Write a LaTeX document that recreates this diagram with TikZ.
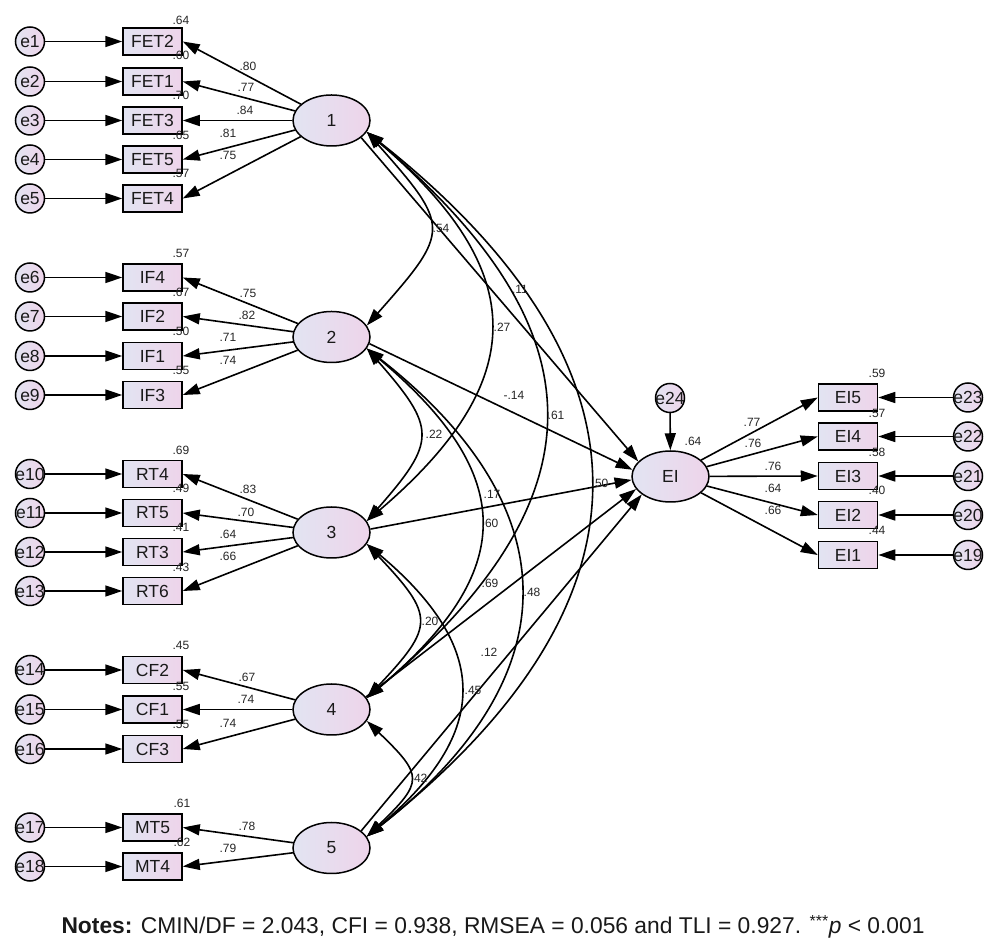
\documentclass[tikz,border=0pt]{standalone}
\usepackage{fontspec}
\setmainfont{Liberation Sans}
\usetikzlibrary{arrows.meta,shapes.geometric}
\definecolor{fl}{RGB}{226,228,242}
\definecolor{fr}{RGB}{238,212,234}
\begin{document}
\begin{tikzpicture}[x=1pt,y=1pt,
 bigf/.style={font=\fontsize{17.5}{17.5}\selectfont,inner sep=0pt,text=black!90},
 errc/.style={circle,draw,line width=1.5pt,minimum size=29pt,inner sep=0pt,left color=fl,right color=fr},
 obs/.style={rectangle,draw,line width=1.5pt,minimum width=59pt,minimum height=27pt,inner sep=0pt,left color=fl,right color=fr,font=\fontsize{17.5}{17.5}\selectfont,text=black!90},
 lat/.style={ellipse,draw,line width=1.5pt,minimum width=77pt,minimum height=51pt,inner sep=0pt,left color=fl,right color=fr,font=\fontsize{17.5}{17.5}\selectfont,text=black!90},
 lb/.style={font=\fontsize{12}{12}\selectfont,inner sep=0pt,text=black!85},
 arr/.style={line width=1.6pt,-{Triangle[length=17pt,width=11pt]}},
 cov/.style={line width=1.6pt,{Triangle[length=17pt,width=11pt]}-{Triangle[length=17pt,width=11pt]}}]
\fill[white] (0,0) rectangle (1001,950);
\useasboundingbox (0,0) rectangle (1001,950);

% latent variables
\node[lat] (L1) at (331.5,829.5) {1};
\node[lat] (L2) at (331.5,613) {2};
\node[lat] (L3) at (331.5,417.5) {3};
\node[lat] (L4) at (331.5,240.5) {4};
\node[lat] (L5) at (331.5,102) {5};
\node[lat] (EI) at (670.5,473.5) {EI};
\node[errc,label={[bigf]center:e24}] (e24) at (670,552) {};
\draw[arr] (e24) -- (EI);

% left indicators
\foreach \n/\y/\ob/\L in {1/908.5/FET2/L1, 2/868.5/FET1/L1, 3/829.5/FET3/L1, 4/790.5/FET5/L1, 5/751.5/FET4/L1,
  6/672.5/IF4/L2, 7/633.5/IF2/L2, 8/594/IF1/L2, 9/555/IF3/L2,
  10/476/RT4/L3, 11/437/RT5/L3, 12/398/RT3/L3, 13/359/RT6/L3,
  14/280/CF2/L4, 15/240.5/CF1/L4, 16/201/CF3/L4,
  17/122.5/MT5/L5, 18/83.5/MT4/L5}{
  \node[errc,label={[bigf]center:e\n}] (e\n) at (30,\y) {};
  \node[obs] (\ob) at (152.5,\y) {\ob};
  \draw[arr] (e\n) -- (\ob);
  \draw[arr] (\L) -- (\ob.east);
}

% right indicators
\foreach \n/\y/\ob in {23/552.5/EI5, 22/513.5/EI4, 21/474/EI3, 20/435/EI2, 19/395/EI1}{
  \node[errc,label={[bigf]center:e\n}] (e\n) at (968,\y) {};
  \node[obs] (\ob) at (848,\y) {\ob};
  \draw[arr] (e\n) -- (\ob);
  \draw[arr] (EI) -- (\ob.west);
}

% structural paths
\draw[arr] (L1.-30) -- (EI.155);
\draw[arr] (L2.-10) -- (EI.170);
\draw[arr] (L3.5) -- (EI.185);
\draw[arr] (L4.20) -- (EI.200);
\draw[arr] (L5.30) -- (EI.212);

% covariances
\draw[cov] (L1.-18) .. controls +(84,-95) and +(84,95) .. (L2.18);
\draw[cov] (L1.-18) .. controls +(164,-140) and +(164,140) .. (L3.18);
\draw[cov] (L1.-18) .. controls +(237,-200) and +(237,200) .. (L4.18);
\draw[cov] (L1.-18) .. controls +(297,-235) and +(297,235) .. (L5.18);
\draw[cov] (L2.-18) .. controls +(70,-80) and +(70,80) .. (L3.18);
\draw[cov] (L2.-18) .. controls +(151,-127) and +(151,127) .. (L4.18);
\draw[cov] (L2.-18) .. controls +(204,-160) and +(204,160) .. (L5.18);
\draw[cov] (L3.-18) .. controls +(68,-72) and +(68,72) .. (L4.18);
\draw[cov] (L3.-18) .. controls +(124,-104) and +(124,104) .. (L5.18);
\draw[cov] (L4.-18) .. controls +(57,-55) and +(57,55) .. (L5.18);

% coefficient labels
\foreach \x/\y/\t in {248/884/.80, 246/863/.77, 245/840/.84, 228/817/.81, 228/795/.75,
  181/930/.64, 181/895/.60, 181/855/.70, 181/815/.65, 181/777/.57,
  248/657/.75, 247/635/.82, 228/613/.71, 228/590/.74,
  181/697/.57, 181/658/.67, 181/619/.50, 181/580/.55,
  248/461/.83, 246/438/.70, 228/416/.64, 228/394/.66,
  181/500/.69, 181/462/.49, 181/423/.41, 181/383/.43,
  247/273/.67, 246/251/.74, 228/227/.74,
  181/305/.45, 181/264/.55, 181/226/.55,
  247/124/.78, 228/102/.79, 182/147/.61, 182/108/.62,
  752/528/.77, 753/507/.76, 773/484/.76, 773/462/.64, 773/440/.66,
  877/577/.59, 877/537/.57, 877/498/.58, 877/460/.40, 877/420/.44, 693/509/.64,
  441/722/.54, 502/623/.27, 556/535/.61, 600/467/.50, 434/516/.22, 490/427/.60,
  532/358/.48, 430/329/.20, 473/260/.45, 419/172/.42,
  520/661/.11, 514/555/-.14, 492/456/.17, 490/367/.69, 489/298/.12}{
  \node[lb] at (\x,\y) {\t};
}

\node[font=\fontsize{22.8}{22.8}\selectfont,inner sep=0pt,text=black!90] (notes) at (493,23)
  {\textbf{Notes:} CMIN/DF = 2.043, CFI = 0.938, RMSEA = 0.056 and TLI = 0.927. \textsuperscript{***}\textit{p} < 0.001};
\end{tikzpicture}
\end{document}
